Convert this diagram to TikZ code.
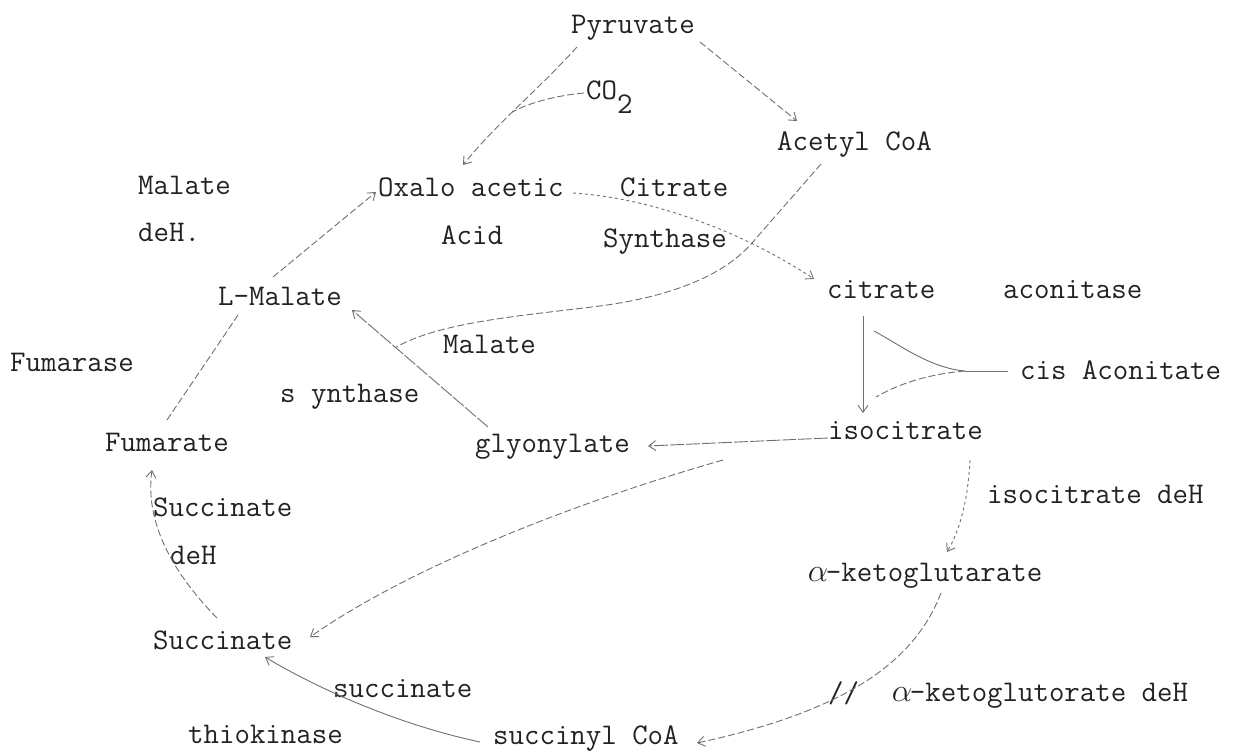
\documentclass[tikz,border=0pt]{standalone}
\usetikzlibrary{arrows.meta,calc}
\definecolor{ink}{HTML}{222222}
\definecolor{pen}{HTML}{707070}
\newcommand{\Alf}{\makebox[15.75pt]{\scalebox{1.3}{$\alpha$}}}
\tikzset{
  lbl/.style={anchor=base west, inner sep=0pt, text=ink, font=\ttfamily\fontsize{30}{36}\selectfont},
  conn/.style={draw=pen, line width=0.9pt},
  solidln/.style={conn},
  longdash/.style={conn, dash pattern=on 14pt off 2pt},
  faint/.style={conn, dash pattern=on 7pt off 3pt},
  dotty/.style={conn, dash pattern=on 3pt off 3pt},
  tip/.style={-{Straight Barb[length=7pt,width=10pt]}},
}
\begin{document}
\begin{tikzpicture}[x=1pt,y=-1pt]
\useasboundingbox[fill=white] (0,0) rectangle (1240,751);
% labels / nodes
\node[lbl] (pyr) at (571,34) {Pyruvate};
\node[lbl] (co2) at (586,100) {CO\raisebox{-14pt}{2}};
\node[lbl] (acc) at (777,151) {Acetyl CoA};
\node[lbl] (mdh1) at (138,195) {Malate};
\node[lbl] (mdh2) at (138,242) {deH.};
\node[lbl] (oxa) at (378,197) {Oxalo acetic};
\node[lbl] (cs1) at (620,197) {Citrate};
\node[lbl] (oxa2) at (441,245) {Acid};
\node[lbl] (cs2) at (603,248) {Synthase};
\node[lbl] (cit) at (827,299) {citrate};
\node[lbl] (acn) at (1003,299) {aconitase};
\node[lbl] (lmal) at (218,306) {L-Malate};
\node[lbl] (ms1) at (443,354) {Malate};
\node[lbl] (fuma) at (10,371) {Fumarase};
\node[lbl] (cis) at (1020,379) {cis Aconitate};
\node[lbl] (ms2) at (280,402) {s ynthase};
\node[lbl] (fumt) at (105,451) {Fumarate};
\node[lbl] (gly) at (475,452) {glyonylate};
\node[lbl] (iso) at (828,439) {isocitrate};
\node[lbl] (sdh1) at (153,516) {Succinate};
\node[lbl] (sdh2) at (170,564) {deH};
\node[lbl] (idh) at (987,503) {isocitrate deH};
\node[lbl] (akg) at (810,581) {\Alf-ketoglutarate};
\node[lbl] (suc) at (153,649) {Succinate};
\node[lbl] (stk1) at (333,697) {succinate};
\node[lbl] (kdh) at (894,701) {\Alf-ketoglutorate deH};
\node[lbl] (stk2) at (188,743) {thiokinase};
\node[lbl] (sca) at (493,744) {succinyl CoA};
\node[lbl] (cut) at (828,702) {//};

% Pyruvate -> Acetyl CoA
\draw[faint,tip] ($(pyr.base west)+(129,8)$) -- ($(acc.base west)+(20,-30)$);
% Pyruvate -> Oxaloacetic acid, with CO2
\draw[faint,tip] ($(pyr.base west)+(6,13)$) .. controls (540,88) and (495,125) .. ($(oxa.base west)+(85,-32)$) coordinate[pos=0.55] (coj);
\draw[faint] ($(co2.base west)+(-2,-7)$) .. controls (560,95) and (530,102) .. (coj);
% Oxaloacetic -> citrate (citrate synthase)
\draw[dotty,tip] ($(oxa.base west)+(195,-4)$) .. controls (650,198) and (740,230) .. ($(cit.base west)+(-13,-20)$);
% glyoxylate -> L-Malate (malate synthase)
\draw[longdash,tip] ($(gly.base west)+(13,-25)$) -- ($(lmal.base west)+(134,4)$) coordinate[pos=0.68] (msj);
% Acetyl CoA -> malate synthase
\draw[faint] ($(acc.base west)+(44,13)$) -- (752,243) .. controls (720,280) and (660,298) .. (600,306) .. controls (520,316) and (440,322) .. (msj);
% Fumarate -> L-Malate
\draw[faint] ($(fumt.base west)+(62,-31)$) -- ($(lmal.base west)+(20,9)$);
% L-Malate -> Oxaloacetic
\draw[faint,tip] ($(lmal.base west)+(55,-29)$) -- ($(oxa.base west)+(-2,-5)$);
% Succinate -> Fumarate
\draw[faint,tip] ($(suc.base west)+(64,-31)$) .. controls (170,570) and (145,520) .. ($(fumt.base west)+(47,19)$);
% isocitrate -> glyoxylate
\draw[longdash,tip] ($(iso.base west)+(0,-1)$) -- ($(gly.base west)+(173,-6)$);
% isocitrate -> Succinate
\draw[faint,tip] ($(iso.base west)+(-105,21)$) .. controls (600,495) and (420,560) .. ($(suc.base west)+(157,-12)$);
% citrate -> isocitrate
\draw[solidln,tip] ($(cit.base west)+(36,17)$) -- ($(iso.base west)+(35,-26)$);
% cis Aconitate branch
\coordinate (cusp) at (965,371);
\draw[solidln] ($(cis.base west)+(-12,-8)$) -- (cusp);
\draw[solidln] (cusp) .. controls (930,368) and (900,345) .. ($(cit.base west)+(47,32)$);
\draw[faint] (cusp) .. controls (930,374) and (900,383) .. ($(iso.base west)+(48,-42)$);
% isocitrate -> alpha-ketoglutarate
\draw[dotty,tip] ($(iso.base west)+(142,21)$) .. controls (968,500) and (960,530) .. ($(akg.base west)+(137,-29)$);
% alpha-ketoglutarate -> succinyl CoA
\draw[faint,tip] ($(akg.base west)+(131,12)$) .. controls (915,660) and (850,710) .. ($(sca.base west)+(204,-1)$);
% succinyl CoA -> Succinate
\draw[solidln,tip] ($(sca.base west)+(-13,-2)$) .. controls (400,725) and (320,690) .. ($(suc.base west)+(112,8)$);
\end{tikzpicture}
\end{document}
